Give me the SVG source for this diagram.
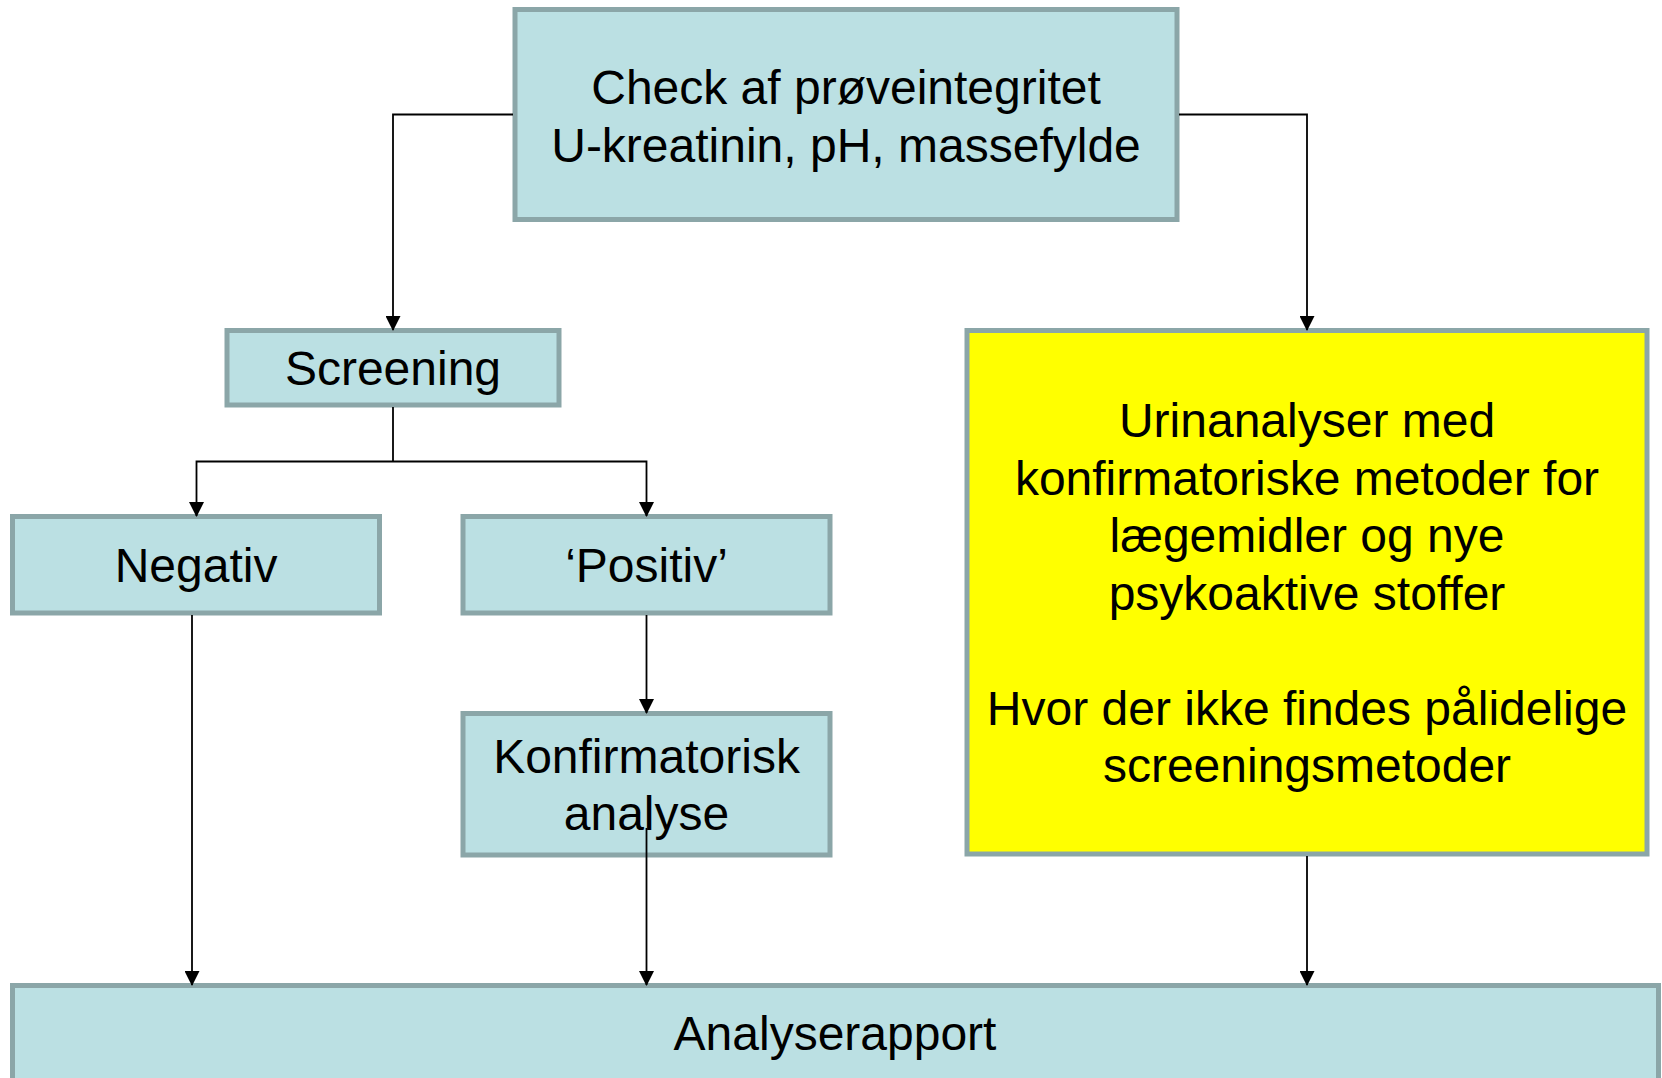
<svg xmlns="http://www.w3.org/2000/svg" width="1662" height="1078" viewBox="0 0 1662 1078">
<style>
.box{fill:#BBE0E3;stroke:#8BA6A8;stroke-width:5}
.yel{fill:#FFFF00;stroke:#8BA6A8;stroke-width:5}
.t{font-family:"Liberation Sans",Arial,sans-serif;font-size:48px;fill:#000;text-anchor:middle}
.c{fill:none;stroke:#000;stroke-width:1.8}
</style>
<defs>
<marker id="ah" viewBox="0 0 15 15" refX="14" refY="7.5" markerWidth="15" markerHeight="15" markerUnits="userSpaceOnUse" orient="auto">
<path d="M0,0 L15,7.5 L0,15 z" fill="#000"/>
</marker>
</defs>
<rect width="1662" height="1078" fill="#fff"/>
<g id="n-check">
<rect class="box" x="515" y="9.5" width="662" height="210"/>
<text class="t" x="846" y="104">Check af prøveintegritet</text>
<text class="t" x="846" y="161.5">U-kreatinin, pH, massefylde</text>
</g>
<g id="n-screening">
<rect class="box" x="227" y="330.5" width="332" height="74.5"/>
<text class="t" x="393" y="385">Screening</text>
</g>
<g id="n-negativ">
<rect class="box" x="12.5" y="516.5" width="367" height="96.5"/>
<text class="t" x="196" y="582">Negativ</text>
</g>
<g id="n-positiv">
<rect class="box" x="463" y="516.5" width="367" height="96.5"/>
<text class="t" x="646.5" y="582">‘Positiv’</text>
</g>
<g id="n-konf">
<rect class="box" x="463" y="713.5" width="367" height="141.5"/>
<text class="t" x="646.5" y="773">Konfirmatorisk</text>
<text class="t" x="646.5" y="830">analyse</text>
</g>
<g id="n-urin">
<rect class="yel" x="967" y="330.5" width="680" height="523.5"/>
<text class="t" x="1307" y="437">Urinanalyser med</text>
<text class="t" x="1307" y="494.5">konfirmatoriske metoder for</text>
<text class="t" x="1307" y="552">lægemidler og nye</text>
<text class="t" x="1307" y="609.5">psykoaktive stoffer</text>
<text class="t" x="1307" y="724.5">Hvor der ikke findes pålidelige</text>
<text class="t" x="1307" y="782">screeningsmetoder</text>
</g>
<g id="n-rapport">
<rect class="box" x="12.5" y="985.5" width="1646" height="110"/>
<text class="t" x="835" y="1050">Analyserapport</text>
</g>
<g id="connectors">
<path class="c" d="M513,114.5 H393 V330" marker-end="url(#ah)"/>
<path class="c" d="M1179,114.5 H1307 V330" marker-end="url(#ah)"/>
<path class="c" d="M393,407 V461.5"/>
<path class="c" d="M393,461.5 H196.5 V516" marker-end="url(#ah)"/>
<path class="c" d="M393,461.5 H646.5 V516" marker-end="url(#ah)"/>
<path class="c" d="M192,615 V985" marker-end="url(#ah)"/>
<path class="c" d="M646.5,615 V713" marker-end="url(#ah)"/>
<path class="c" d="M646.5,828 V985" marker-end="url(#ah)"/>
<path class="c" d="M1307,856 V985" marker-end="url(#ah)"/>
</g>
</svg>
